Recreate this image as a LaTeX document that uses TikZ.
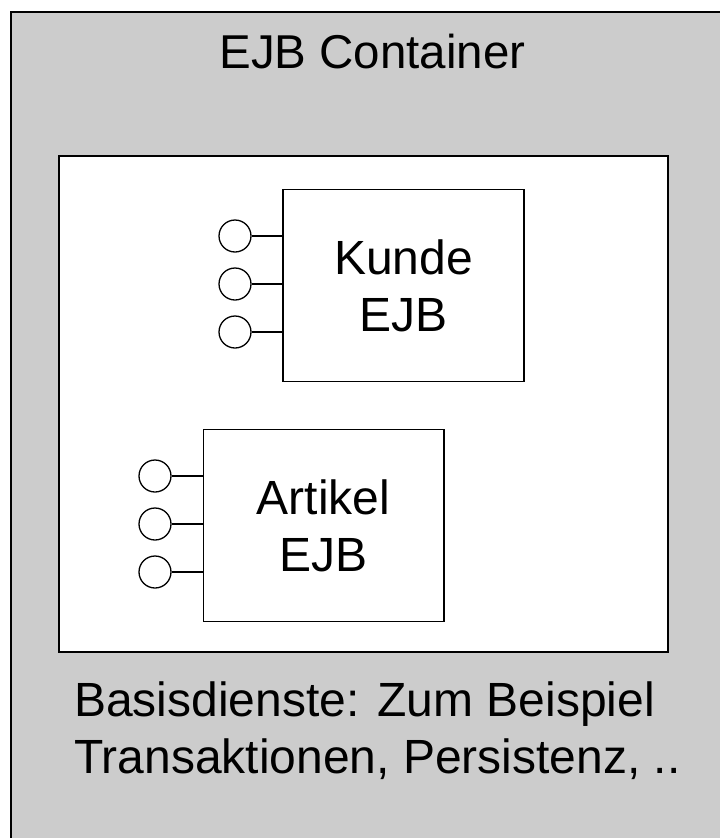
\documentclass[tikz,border=0pt]{standalone}
\usepackage{fontspec}
\setmainfont{Liberation Sans}
\definecolor{ejbgray}{RGB}{204,204,204}
\begin{document}
\begin{tikzpicture}[x=1pt,y=-1pt,
  frame/.style={draw=black, line width=1.5pt},
  bean/.style={frame, fill=white, inner sep=0pt, align=center,
    font=\fontsize{48}{57.5}\selectfont},
  port/.style={draw=black, line width=1.3pt, circle, fill=white,
    minimum size=32pt, inner sep=0pt},
  wire/.style={draw=black, line width=1.3pt},
  txt/.style={inner sep=0pt, font=\fontsize{48}{56.5}\selectfont}]
\useasboundingbox (0,0) rectangle (720,838);
\clip (0,0) rectangle (720,838);
% container
\path[frame, fill=ejbgray] (11,12) rectangle (740,860);
\node[txt, anchor=base, font=\fontsize{47.5}{56}\selectfont] (title) at (372.5,68.3) {EJB Container};
% inner area
\path[frame, fill=white] (59,156) rectangle (668,652);
% Kunde EJB
\node[bean, minimum width=241pt, minimum height=192pt, yshift=-1.6pt]
  (kunde) at (403.5,284) {Kunde\\EJB};
\node[port] (k1) at (235,236) {};
\node[port] (k2) at (235,284) {};
\node[port] (k3) at (235,332) {};
\foreach \p in {k1,k2,k3} \draw[wire] (\p.east) -- (\p.east -| kunde.west);
% Artikel EJB
\node[bean, minimum width=240.5pt, minimum height=192pt, yshift=-1.6pt]
  (artikel) at (323.5,524) {Artikel\\EJB};
\node[port] (a1) at (155,476) {};
\node[port] (a2) at (155,524) {};
\node[port] (a3) at (155,572) {};
\foreach \p in {a1,a2,a3} \draw[wire] (\p.east) -- (\p.east -| artikel.west);
% services text
\node[txt, anchor=north west, align=left] (dienste) at (74,682)
  {Basisdienste: Zum Beispiel\\Transaktionen, Persistenz, ..};
\end{tikzpicture}
\end{document}
